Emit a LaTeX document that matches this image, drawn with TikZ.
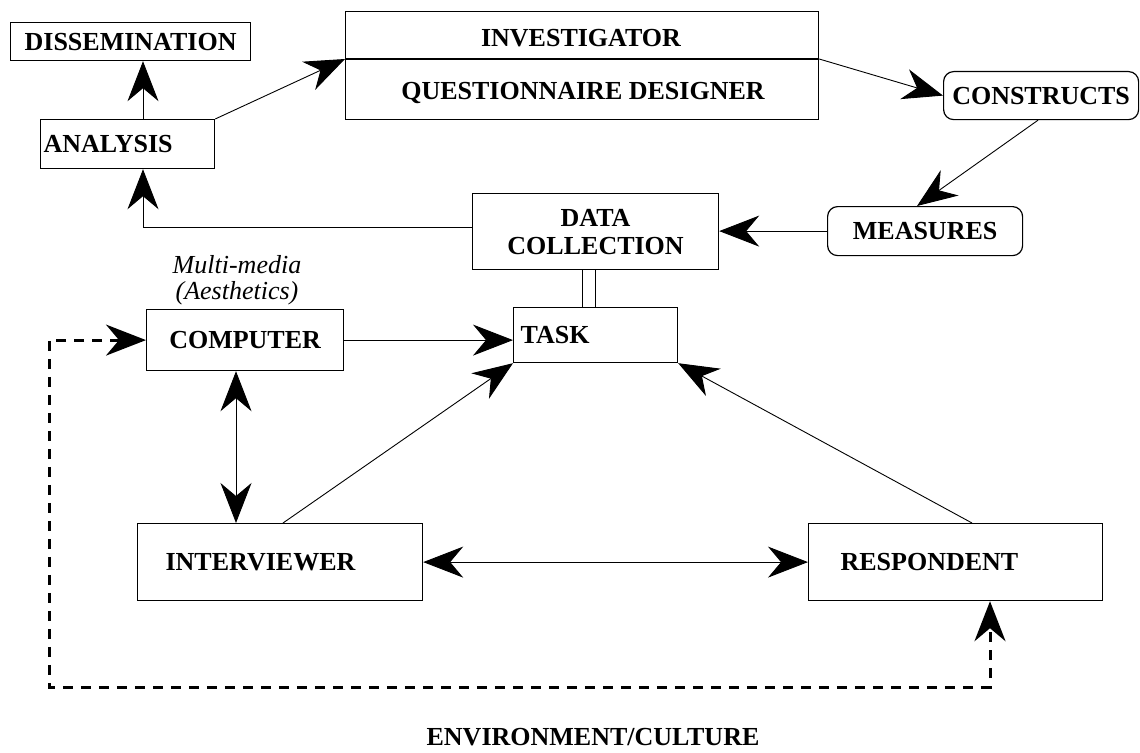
\documentclass[tikz,border=0pt]{standalone}
\usepackage{fontspec}
\setmainfont{Liberation Serif}
\usetikzlibrary{arrows.meta,calc}
\begin{document}
\begin{tikzpicture}[x=1pt,y=-1pt,
  every node/.style={font=\fontsize{26}{28}\selectfont\bfseries, inner sep=0pt},
  >={Stealth[length=40pt,width=31pt,inset=13pt]},
  box/.style={draw, line width=1.2pt, anchor=north west},
  rbox/.style={box, rounded corners=10pt},
  lbox/.style={box, align=left},
  conn/.style={line width=0.9pt},
  dsh/.style={line width=3pt, dash pattern=on 10pt off 8pt},
  lbl/.style={text depth=0pt}
]
\useasboundingbox (0,0) rectangle (1140,752);

% boxes
\node[box, minimum width=240pt, minimum height=38pt] (dis) at (10,22) {DISSEMINATION};
\node[lbox, minimum height=49pt, text width=168pt, inner xsep=3pt] (ana) at (40,119) {ANALYSIS};
\node[box, minimum width=473pt, minimum height=108pt] (inv) at (345,11) {};
\node[lbl] (invt) at (581,38) {INVESTIGATOR};
\node[lbl] (qd) at (583,91) {QUESTIONNAIRE DESIGNER};
\node[rbox, minimum width=195pt, minimum height=48pt] (con) at (943,71) {CONSTRUCTS};
\node[rbox, minimum width=195pt, minimum height=49pt] (mea) at (827,206) {MEASURES};
\node[box, minimum width=246pt, minimum height=76pt, align=center] (dc) at (472,193) {DATA\\COLLECTION};
\node[lbox, minimum height=55pt, text width=150pt, inner xsep=7pt] (task) at (513,307) {TASK};
\node[box, minimum width=197pt, minimum height=61pt] (comp) at (146,309) {COMPUTER};
\node[lbox, minimum height=77pt, text width=229pt, inner xsep=28pt] (intv) at (137,523) {\raisebox{-3pt}{INTERVIEWER}};
\node[lbox, minimum height=77pt, text width=230pt, inner xsep=32pt] (resp) at (808,523) {RESPONDENT};

% labels
\node[align=center, font=\fontsize{26}{26}\selectfont\itshape] (mm) at (237,280) {Multi-media\\(Aesthetics)};
\node[lbl] (env) at (593,737) {ENVIRONMENT/CULTURE};

% investigator divider
\coordinate (invL) at (inv.west |- 0,59);
\coordinate (invR) at (inv.east |- 0,59);
\draw[line width=1.2pt] (invL) -- (invR);

% connectors
\draw[conn,->] (ana.north -| 143,0) -- (dis.south -| 143,0);
\draw[conn,->] (ana.north east) -- (invL);
\draw[conn,->] (invR) -- (con.west);
\draw[conn,->] (con.south -| 1038,0) -- (mea.north -| 917,0);
\draw[conn,->] (mea.west) -- (mea.west -| dc.east);
\coordinate (bend) at (143,227);
\draw[conn,->] (dc.west |- bend) -- (bend) -- (ana.south -| bend);
\draw[conn] (dc.south -| 582,0) -- (task.north -| 582,0);
\draw[conn] (dc.south -| 595,0) -- (task.north -| 595,0);
\draw[conn,->] (comp.east) -- (comp.east -| task.west);
\draw[conn,<->] (comp.south -| 236,0) -- (intv.north -| 236,0);
\draw[conn,->] (intv.north -| 283,0) -- (task.south west);
\draw[conn,->] (resp.north -| 972,0) -- (task.south east);
\draw[conn,<->] (intv.east) -- (resp.west);

% dashed environment loop
\coordinate (dl) at (49,687);
\coordinate (dr) at (990,687);
\draw[dsh,<->] (comp.west) -| (dl) -- (dr) -- (resp.south -| dr);
\end{tikzpicture}
\end{document}
